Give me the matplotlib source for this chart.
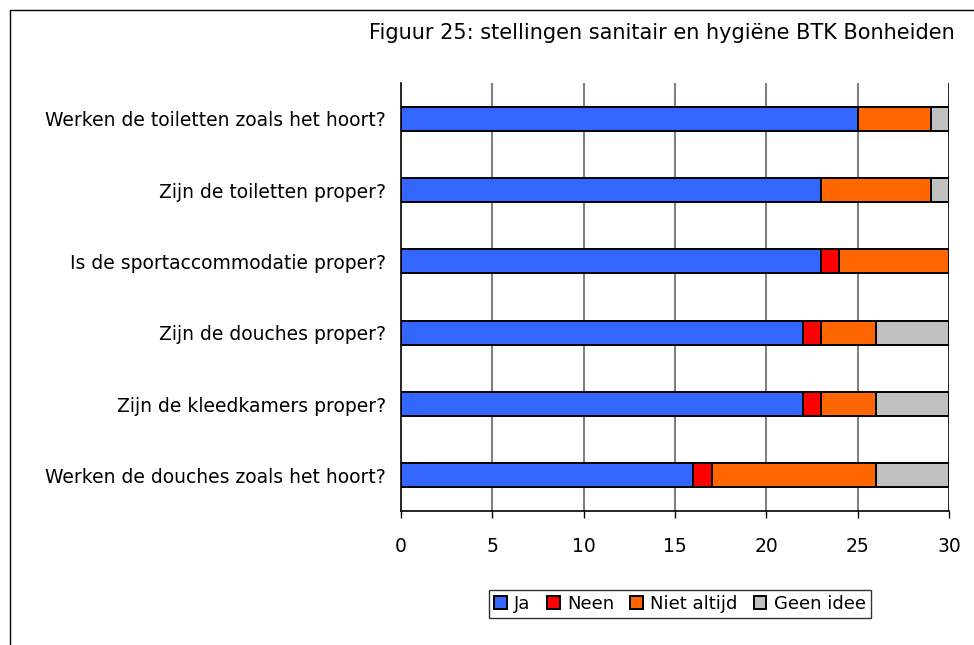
import numpy as np
import matplotlib.pyplot as plt
from matplotlib.patches import Rectangle

vragen = [
    "Werken de toiletten zoals het hoort?",
    "Zijn de toiletten proper?",
    "Is de sportaccommodatie proper?",
    "Zijn de douches proper?",
    "Zijn de kleedkamers proper?",
    "Werken de douches zoals het hoort?",
]
ja = [25, 23, 23, 22, 22, 16]
neen = [0, 0, 1, 1, 1, 1]
niet_altijd = [4, 6, 6, 3, 3, 9]
geen_idee = [1, 1, 0, 4, 4, 4]
reeksen = ["Ja", "Neen", "Niet altijd", "Geen idee"]
kleuren = ["#3366FF", "#FF0000", "#FF6600", "#C0C0C0"]
x_ticks = [0, 5, 10, 15, 20, 25, 30]

fig = plt.figure(figsize=(9.74, 6.45), dpi=100)
W, H = 974, 645
ax = fig.add_axes([401 / W, 1 - 511 / H, (949 - 401) / W, (511 - 83) / H])

# buitenkader (alleen links/boven zichtbaar)
fig.patches.append(Rectangle((10 / W, -0.1), 1.2, 1 - 10 / H + 0.1, transform=fig.transFigure,
                             fill=False, edgecolor="black", linewidth=1))

y = np.arange(len(vragen))[::-1]
links = np.zeros(len(vragen))
for naam, waarden, kleur in zip(reeksen, [ja, neen, niet_altijd, geen_idee], kleuren):
    w = np.array(waarden, dtype=float)
    ax.barh(y, w, left=links, height=0.34, color=kleur, edgecolor="black",
            linewidth=1.4, label=naam, zorder=3)
    links += w

ax.set_xlim(0, 30)
ax.set_ylim(-0.5, len(vragen) - 0.5)
ax.set_xticks(x_ticks)
ax.set_xticklabels([str(t) for t in x_ticks], fontsize=13.5)
ax.set_yticks(y)
ax.set_yticklabels(vragen, fontsize=13.5)
ax.tick_params(axis="y", length=0, pad=11)
ax.tick_params(axis="x", length=5, width=1, direction="out", pad=14)
for t in x_ticks[1:-1]:
    ax.axvline(t, color="#808080", linewidth=1.5, zorder=1)
ax.axvline(30, color="black", linewidth=1.2, zorder=1)
for s in ["top", "right"]:
    ax.spines[s].set_visible(False)
ax.spines["left"].set_linewidth(1.2)
ax.spines["bottom"].set_linewidth(1.2)

fig.text(955 / W, 1 - 33 / H, "Figuur 25: stellingen sanitair en hygiëne BTK Bonheiden",
         ha="right", va="center", fontsize=15)

leg = fig.legend(loc="center", bbox_to_anchor=(680 / W, 1 - 604 / H), ncol=4,
                 fontsize=13, frameon=True, fancybox=False, edgecolor="black",
                 handlelength=0.7, handleheight=0.7, handletextpad=0.4,
                 columnspacing=0.9, borderpad=0.3)
leg.get_frame().set_linewidth(1)

fig.savefig("out.png", dpi=100)
